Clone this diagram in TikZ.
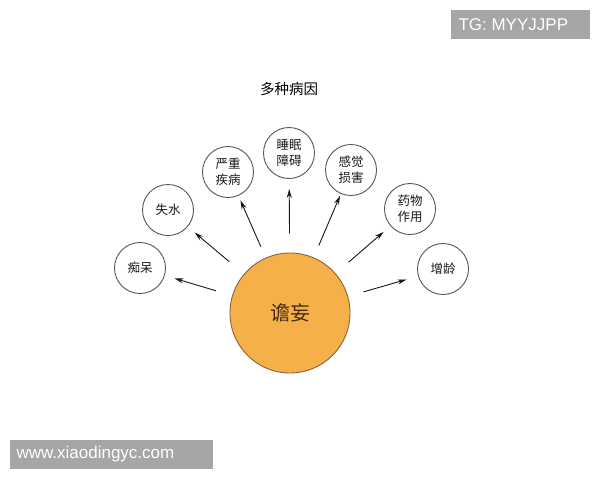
\documentclass[tikz,border=0pt]{standalone}
\usepackage{fontspec}
\setmainfont{Liberation Sans}
\newfontfamily\cjk{Noto Sans CJK SC}
\usetikzlibrary{arrows.meta}
\definecolor{mainfill}{HTML}{F5B04A}
\definecolor{mainedge}{HTML}{8A6535}
\definecolor{maintext}{HTML}{4A2C10}
\definecolor{wmgrey}{HTML}{A6A6A6}
\definecolor{ringgrey}{HTML}{555555}
\tikzset{
  small/.style={circle, draw=ringgrey, line width=0.9pt, minimum size=51pt, inner sep=0pt,
    align=center, font=\cjk\fontsize{12.5}{15.5}\selectfont, text=black!90},
  bigc/.style={circle, draw=mainedge, fill=mainfill, line width=0.9pt, minimum size=120pt,
    inner sep=0pt, font=\cjk\fontsize{20}{24}\selectfont, text=maintext},
  arr/.style={-{Stealth[length=9pt,width=5pt]}, line width=0.9pt, black!90},
  wm/.style={fill=wmgrey, text=white, inner sep=0pt, anchor=north west,
    font=\fontsize{17}{20}\selectfont}
}
\begin{document}
\begin{tikzpicture}[x=1pt,y=-1pt]
\useasboundingbox (0,0) rectangle (600,480);
\fill[white] (0,0) rectangle (600,480);
\node[font=\cjk\fontsize{14.5}{17}\selectfont] (title) at (289,89) {多种病因};
\node[bigc] (c) at (290,313) {谵妄};
\node[small] (a1) at (140,268) {痴呆};
\node[small] (a2) at (168,210) {失水};
\node[small] (a3) at (228,172) {严重\\疾病};
\node[small] (a4) at (289,153) {睡眠\\障碍};
\node[small] (a5) at (351,170) {感觉\\损害};
\node[small] (a6) at (410,209) {药物\\作用};
\node[small] (a7) at (443,269) {增龄};
\foreach \n/\s/\e in {a1/17/10, a2/19/9, a3/12/5, a4/19/10, a5/13/2, a6/17/9, a7/16/12}
  \draw[arr, shorten <=\s pt, shorten >=\e pt] (c) -- (\n);
\node[wm, minimum width=139pt, minimum height=29pt] (tg) at (451,10) {};
\node[text=white, font=\fontsize{17}{20}\selectfont, anchor=west] (tgt) at (455,24.5) {TG: MYYJJPP};
\node[wm, minimum width=203pt, minimum height=29pt] (url) at (10,440) {};
\node[text=white, font=\fontsize{17}{20}\selectfont, anchor=west] (urlt) at (13,454.5) {www.xiaodingyc.com};
\end{tikzpicture}
\end{document}
